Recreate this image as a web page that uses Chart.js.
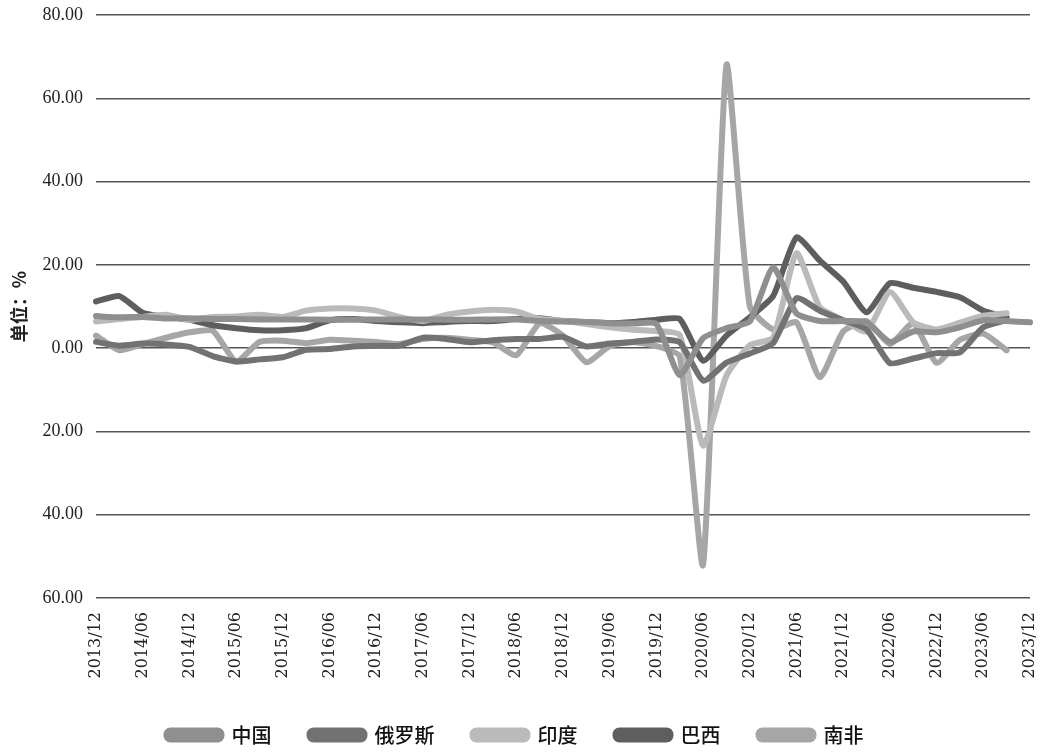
<!DOCTYPE html>
<html>
<head>
<meta charset="utf-8">
<script src="https://cdn.jsdelivr.net/npm/chart.js@4"></script>
<style>
  html, body { margin: 0; padding: 0; background: #fff; }
  #wrap { width: 1046px; height: 755px; }
</style>
</head>
<body>
<div id="wrap"><canvas id="c" width="1046" height="755"></canvas></div>
<script>
const quarters = [
    '2013/12', '2014/03', '2014/06', '2014/09', '2014/12', '2015/03', '2015/06', '2015/09',
    '2015/12', '2016/03', '2016/06', '2016/09', '2016/12', '2017/03', '2017/06', '2017/09',
    '2017/12', '2018/03', '2018/06', '2018/09', '2018/12', '2019/03', '2019/06', '2019/09',
    '2019/12', '2020/03', '2020/06', '2020/09', '2020/12', '2021/03', '2021/06', '2021/09',
    '2021/12', '2022/03', '2022/06', '2022/09', '2022/12', '2023/03', '2023/06', '2023/09',
    '2023/12'
];

const china = [7.7, 7.4, 7.5, 7.1, 7.2, 7.0, 7.0, 6.9, 6.9, 6.9, 6.8, 6.8, 6.9, 6.9, 6.9, 6.8,
    6.8, 6.9, 6.9, 6.5, 6.4, 6.3, 6.0, 5.9, 5.8, -6.5, 2.4, 4.8, 6.4, 19.4, 8.3, 6.5,
    6.5, 6.2, 1.5, 4.0, 3.8, 5.0, 6.7, 6.5, 6.2];
const russia = [1.5, 0.6, 1.1, 0.9, 0.3, -1.9, -3.2, -2.7, -2.2, -0.4, -0.2, 0.4, 0.6, 0.6, 2.5, 2.2,
    1.4, 1.9, 2.2, 2.2, 2.7, 0.4, 1.1, 1.5, 2.1, 1.4, -7.8, -3.5, -1.3, 1.2, 12.0, 9.0,
    6.7, 4.5, -3.6, -2.5, -1.2, -1.0, 5.0, 6.7, null];
const india = [6.4, 7.0, 7.5, 8.0, 6.8, 7.5, 7.6, 8.0, 7.5, 9.0, 9.5, 9.5, 9.0, 7.5, 6.5, 8.0,
    8.8, 9.2, 8.8, 7.0, 6.6, 5.8, 5.0, 4.4, 4.1, 3.1, -23.4, -6.6, 0.7, 2.5, 22.8, 9.8,
    6.7, 4.0, 13.5, 6.2, 4.5, 6.1, 7.8, 8.4, null];
const brazil = [11.2, 12.5, 8.5, 7.5, 6.8, 5.5, 4.8, 4.3, 4.3, 4.8, 6.7, 7.0, 6.5, 6.2, 6.0, 6.3,
    6.5, 6.5, 7.0, 7.2, 6.5, 6.2, 6.0, 6.3, 6.8, 7.0, -3.0, 3.0, 7.4, 12.5, 26.6, 21.0,
    16.0, 8.6, 15.6, 14.5, 13.5, 12.2, 9.0, 7.4, null];
const southAfrica = [3.0, -0.5, 1.0, 2.5, 3.8, 4.2, -3.2, 1.5, 1.8, 1.2, 2.0, 1.8, 1.5, 1.0, 2.2, 2.5,
    2.0, 1.4, -1.7, 6.0, 3.0, -3.4, 0.5, 1.5, 0.5, -2.0, -52.0, 68.0, 10.0, 4.5, 6.2, -7.0,
    4.0, 6.5, 1.0, 6.0, -3.5, 2.0, 3.5, -0.5, null];

const names = ['中国', '俄罗斯', '印度', '巴西', '南非'];
const colors = ['#8f8f8f', '#727272', '#bababa', '#5e5e5e', '#a6a6a6'];
const series = [china, russia, india, brazil, southAfrica];

const serif = '"Liberation Serif", "DejaVu Serif", serif';
const cjk = '"Noto Sans CJK SC", sans-serif';

new Chart(document.getElementById('c'), {
    type: 'line',
    data: {
        labels: quarters,
        datasets: series.map((d, i) => ({
            label: names[i],
            data: d,
            borderColor: colors[i],
            backgroundColor: colors[i],
            borderWidth: 6,
            borderCapStyle: 'round',
            borderJoinStyle: 'round',
            tension: 0.18,
            pointRadius: 0,
            pointHoverRadius: 0,
            fill: false
        }))
    },
    options: {
        responsive: false,
        animation: false,
        layout: { padding: { left: 0, top: 15, right: 16, bottom: 0 } },
        plugins: {
            tooltip: { enabled: false },
            legend: {
                position: 'bottom',
                labels: {
                    boxWidth: 55,
                    boxHeight: 9,
                    useBorderRadius: true,
                    borderRadius: 4,
                    padding: 38,
                    color: '#111',
                    font: { family: cjk, size: 20, weight: '500' }
                }
            }
        },
        scales: {
            x: {
                grid: { display: false },
                border: { display: false },
                afterFit: (scale) => {
                    scale.height = 89;
                    scale.paddingLeft = 0;
                    scale.paddingRight = 0;
                },
                ticks: {
                    autoSkip: false,
                    maxRotation: 90,
                    minRotation: 90,
                    padding: 6,
                    color: '#222',
                    font: { family: '"DejaVu Serif", serif', size: 16 },
                    callback: function (value, index) {
                        return index % 2 === 0 ? this.getLabelForValue(value) : '';
                    }
                }
            },
            y: {
                min: -60,
                max: 80,
                afterFit: (scale) => {
                    scale.width = 96;
                    scale.paddingTop = 0;
                    scale.paddingBottom = 0;
                },
                border: { display: false },
                grid: { color: '#555', lineWidth: 1.5, drawTicks: false },
                title: {
                    display: true,
                    text: '单位：%',
                    color: '#222',
                    font: { family: cjk, size: 18, weight: 'bold' },
                    padding: { top: 8, bottom: 4 }
                },
                ticks: {
                    stepSize: 20,
                    padding: 13,
                    color: '#222',
                    font: { family: serif, size: 18 },
                    callback: (v) => Math.abs(v).toFixed(2)
                }
            }
        }
    }
});
</script>
</body>
</html>
